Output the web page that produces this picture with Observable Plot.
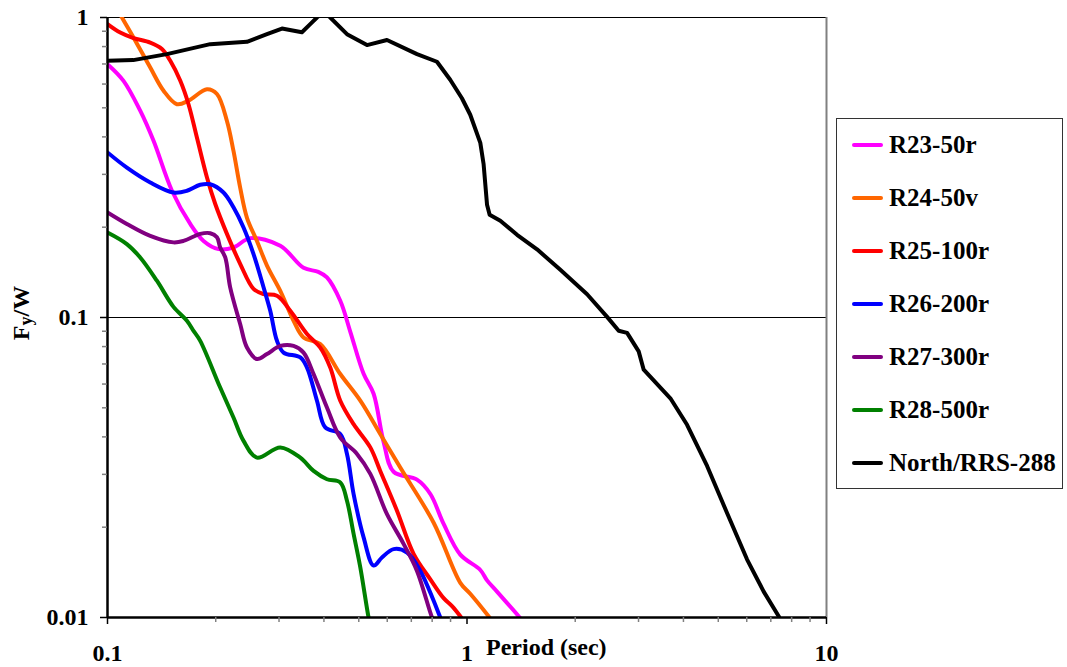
<!DOCTYPE html>
<html>
<head>
<meta charset="utf-8">
<script src="https://cdn.jsdelivr.net/npm/d3@7"></script>
<script src="https://cdn.jsdelivr.net/npm/@observablehq/plot@0.6"></script>
<style>
  body { margin: 0; background: #fff; }
  #wrap { position: relative; width: 1067px; height: 667px; font-family: "Liberation Serif", "Times New Roman", serif; font-weight: bold; color: #000; }
  #wrap svg { position: absolute; left: 0; top: 0; }
  #wrap svg text { font-family: "Liberation Serif", "Times New Roman", serif !important; font-weight: bold; fill: #000; }
  .ylab { position: absolute; left: 22px; top: 313px; transform: translate(-50%, -50%) rotate(-90deg); font-size: 24px; white-space: nowrap; }
  .ylab sub { font-size: 18px; vertical-align: -3px; }
  .xlab { position: absolute; left: 486px; top: 635px; font-size: 24px; line-height: 24px; white-space: nowrap; }
  .legend { position: absolute; left: 836px; top: 118px; width: 227px; height: 371px; border: 1px solid #333; background: #fff; box-sizing: border-box; }
  .item { height: 52.9px; display: flex; align-items: center; font-size: 25px; white-space: nowrap; }
  .swatch { width: 31px; height: 4px; margin-left: 15px; margin-right: 6px; border-radius: 2px; }
</style>
</head>
<body>
<div id="wrap"></div>
<script>
// Series names and colours, in legend order
const seriesNames = ["R23-50r", "R24-50v", "R25-100r", "R26-200r", "R27-300r", "R28-500r", "North/RRS-288"];
const seriesColors = ["#ff00ff", "#ff6600", "#ff0000", "#0000ff", "#800080", "#008000", "#000000"];

// Each series: [period (sec), Fy/W]
const r23_50r = [[0.1,0.699],[0.1108,0.615],[0.1233,0.489],[0.1343,0.388],[0.1511,0.2645],[0.1699,0.205],[0.185,0.180],[0.2036,0.169],[0.2241,0.1711],[0.2495,0.1839],[0.3024,0.1734],[0.351,0.1464],[0.3858,0.142],[0.4078,0.136],[0.4441,0.1137],[0.4736,0.0896],[0.5157,0.0649],[0.5498,0.0557],[0.5861,0.0385],[0.6249,0.0306],[0.7259,0.0288],[0.7907,0.0258],[0.861,0.0205],[0.958,0.0162],[1.089,0.0144],[1.137,0.0133],[1.212,0.0122],[1.392,0.0101],[1.42,0.0098]];
const r24_50v = [[0.1,1.22],[0.1097,1.0],[0.1181,0.858],[0.1315,0.681],[0.1432,0.570],[0.156,0.514],[0.168,0.528],[0.1891,0.577],[0.2016,0.556],[0.2149,0.452],[0.2241,0.359],[0.2339,0.271],[0.2443,0.215],[0.2604,0.180],[0.2777,0.149],[0.3024,0.1227],[0.3293,0.0975],[0.351,0.0858],[0.3907,0.0815],[0.4441,0.0648],[0.5049,0.0528],[0.5737,0.0409],[0.6522,0.0316],[0.8077,0.0207],[0.958,0.01305],[1.021,0.0120],[1.148,0.0101],[1.17,0.0098]];
const r25_100r = [[0.1,0.951],[0.1085,0.891],[0.1181,0.854],[0.1315,0.825],[0.1417,0.785],[0.1495,0.717],[0.1594,0.615],[0.168,0.514],[0.1773,0.398],[0.1891,0.293],[0.1994,0.239],[0.2149,0.190],[0.2339,0.151],[0.2548,0.1246],[0.2718,0.1197],[0.2961,0.1181],[0.3224,0.1053],[0.3589,0.0881],[0.3907,0.0794],[0.4165,0.0681],[0.4441,0.0528],[0.4837,0.0441],[0.5383,0.0369],[0.5737,0.0308],[0.6386,0.0227],[0.7103,0.0163],[0.7907,0.0134],[0.861,0.0116],[0.91,0.0109],[0.958,0.0101],[0.975,0.0098]];
const r26_200r = [[0.1,0.355],[0.1132,0.316],[0.1315,0.282],[0.1526,0.261],[0.1663,0.2645],[0.1811,0.277],[0.1931,0.278],[0.2102,0.261],[0.2241,0.233],[0.239,0.1995],[0.2548,0.1627],[0.2718,0.1259],[0.2836,0.1053],[0.2961,0.0836],[0.3089,0.0764],[0.3438,0.0736],[0.3589,0.0681],[0.3825,0.0528],[0.4034,0.0430],[0.4441,0.0409],[0.4636,0.0351],[0.4837,0.0258],[0.5157,0.0185],[0.5498,0.0149],[0.58,0.01585],[0.6249,0.0169],[0.6808,0.01647],[0.7417,0.0143],[0.8077,0.01137],[0.843,0.0100],[0.855,0.0097]];
const r27_300r = [[0.1,0.224],[0.1132,0.205],[0.1315,0.187],[0.1526,0.178],[0.1627,0.180],[0.1811,0.190],[0.1931,0.191],[0.2016,0.185],[0.2058,0.171],[0.2126,0.1585],[0.2194,0.126],[0.2339,0.0951],[0.2443,0.0794],[0.2604,0.0727],[0.2777,0.0755],[0.3024,0.0804],[0.3293,0.0804],[0.351,0.0764],[0.3743,0.0648],[0.4078,0.0501],[0.4441,0.0398],[0.4943,0.0351],[0.5383,0.0301],[0.599,0.0221],[0.6662,0.0176],[0.7259,0.0143],[0.7994,0.0100],[0.81,0.0097]];
const r28_500r = [[0.1,0.192],[0.1132,0.1757],[0.1233,0.1585],[0.1372,0.1326],[0.1526,0.1085],[0.1663,0.0975],[0.1735,0.0903],[0.1811,0.0836],[0.2058,0.0584],[0.2241,0.0464],[0.239,0.0388],[0.2604,0.0341],[0.3024,0.0369],[0.3438,0.0341],[0.3743,0.0308],[0.4078,0.0289],[0.4441,0.0282],[0.4636,0.0245],[0.4837,0.019],[0.5049,0.0147],[0.5324,0.0100],[0.536,0.0097]];
const northRRS288 = [[0.1,0.717],[0.1179,0.721],[0.1463,0.755],[0.1931,0.815],[0.2443,0.830],[0.2777,0.880],[0.3057,0.919],[0.3474,0.893],[0.3664,0.95],[0.3825,1.0],[0.399,1.04],[0.4165,1.0],[0.4636,0.88],[0.527,0.809],[0.599,0.841],[0.726,0.755],[0.825,0.712],[0.898,0.620],[0.968,0.538],[1.021,0.474],[1.089,0.382],[1.112,0.325],[1.137,0.2375],[1.156,0.220],[1.238,0.210],[1.378,0.1887],[1.566,0.1688],[1.818,0.1442],[2.158,0.1195],[2.453,0.1005],[2.642,0.0903],[2.788,0.0889],[3.003,0.0771],[3.101,0.0670],[3.679,0.0538],[4.094,0.0439],[4.654,0.0320],[5.289,0.0223],[6.014,0.0156],[6.688,0.0122],[7.362,0.0101],[7.45,0.0098]];

// Axis ticks
const xMajorTicks = [0.1, 1, 10];
const xMinorTicks = [0.2, 0.3, 0.4, 0.5, 0.6, 0.7, 0.8, 0.9, 2, 3, 4, 5, 6, 7, 8, 9];
const yMajorTicks = [0.01, 0.1, 1];
const yMinorTicks = [0.02, 0.03, 0.04, 0.05, 0.06, 0.07, 0.08, 0.09, 0.2, 0.3, 0.4, 0.5, 0.6, 0.7, 0.8, 0.9];

// Long-format table for the smoothed model curves
const smoothSeries = [r23_50r, r24_50v, r25_100r, r26_200r, r27_300r, r28_500r];
const rows = smoothSeries.flatMap((s, i) => s.map(([period, fy]) => ({name: seriesNames[i], period, fy})));
const recordRows = northRRS288.map(([period, fy]) => ({name: seriesNames[6], period, fy}));

const fmt = d => String(d);

const chart = Plot.plot({
  width: 1067,
  height: 667,
  marginLeft: 107,
  marginRight: 241,
  marginTop: 17,
  marginBottom: 50,
  style: {fontFamily: "'Liberation Serif', 'Times New Roman', serif", background: "transparent", color: "#000"},
  x: {type: "log", domain: [0.1, 10]},
  y: {type: "log", domain: [0.01, 1]},
  color: {domain: seriesNames, range: seriesColors},
  marks: [
    Plot.ruleY([1, 0.1], {stroke: "#000", strokeWidth: 1}),
    Plot.ruleX([10], {stroke: "#808080", strokeWidth: 2}),
    Plot.line(rows, {x: "period", y: "fy", z: "name", stroke: "name", strokeWidth: 4, curve: "catmull-rom", clip: true}),
    Plot.line(recordRows, {x: "period", y: "fy", stroke: "name", strokeWidth: 4, clip: true}),
    Plot.ruleX([0.1], {stroke: "#000", strokeWidth: 2.5}),
    Plot.ruleY([0.01], {stroke: "#000", strokeWidth: 2.5}),
    Plot.axisX(xMinorTicks, {tickSize: 5, stroke: "#808080", strokeWidth: 1.5, tickFormat: () => "", label: null}),
    Plot.axisX(xMajorTicks, {tickSize: 7, tickPadding: 19, strokeWidth: 1.5, tickFormat: fmt, fontSize: 24, fontWeight: "bold", label: null}),
    Plot.axisY(yMinorTicks, {tickSize: 5, stroke: "#808080", strokeWidth: 1.5, tickFormat: () => "", label: null}),
    Plot.axisY(yMajorTicks, {tickSize: 7, tickPadding: 12, strokeWidth: 1.5, tickFormat: fmt, fontSize: 24, fontWeight: "bold", label: null})
  ]
});

const wrap = document.getElementById("wrap");
wrap.appendChild(chart);

const ylab = document.createElement("div");
ylab.className = "ylab";
ylab.innerHTML = "F<sub>y</sub>/W";
wrap.appendChild(ylab);

const xlab = document.createElement("div");
xlab.className = "xlab";
xlab.textContent = "Period (sec)";
wrap.appendChild(xlab);

const legend = document.createElement("div");
legend.className = "legend";
seriesNames.forEach((name, i) => {
  const item = document.createElement("div");
  item.className = "item";
  const sw = document.createElement("span");
  sw.className = "swatch";
  sw.style.background = seriesColors[i];
  const label = document.createElement("span");
  label.textContent = name;
  item.appendChild(sw);
  item.appendChild(label);
  legend.appendChild(item);
});
wrap.appendChild(legend);
</script>
</body>
</html>
